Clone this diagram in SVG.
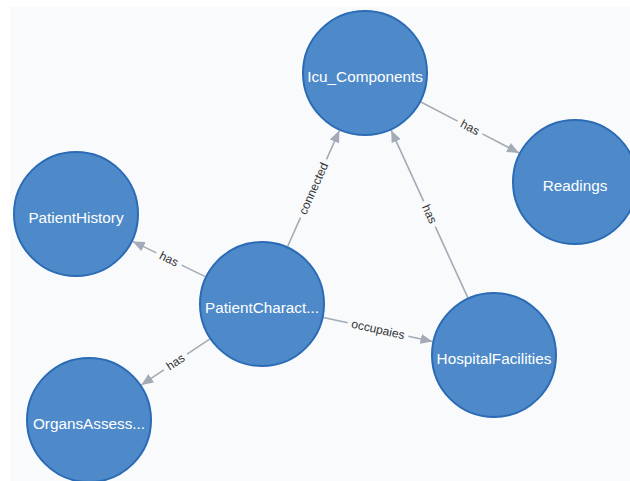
<svg xmlns="http://www.w3.org/2000/svg" width="630" height="481" viewBox="0 0 630 481">
  <defs>
    <marker id="arrow" viewBox="0 0 12 10" refX="12" refY="5" markerWidth="12" markerHeight="10" markerUnits="userSpaceOnUse" orient="auto">
      <path d="M0,0 L12,5 L0,10 z" fill="#a5abb6"/>
    </marker>
    <style>
      .node circle { fill: #4e8ac9; stroke: #2b6bb5; stroke-width: 2; }
      .node text { fill: #ffffff; font-family: "Liberation Sans", Arial, sans-serif; font-size: 15.3px; text-anchor: middle; }
      .edge path { fill: none; stroke: #a5abb6; stroke-width: 1.6; marker-end: url(#arrow); }
      .edge text { fill: #333333; font-family: "Liberation Sans", Arial, sans-serif; font-size: 12px; text-anchor: middle; }
    </style>
  </defs>
  <rect x="0" y="0" width="630" height="481" fill="#ffffff"/>
  <rect x="10" y="7" width="620" height="474" fill="#f8fafc"/>

  <g id="connectors">
    <g class="edge" id="e-connected">
      <path d="M287.6,246.5 L300.5,217.7 M326.5,159.3 L339.4,130.5"/>
      <text transform="translate(313.5,188.5) rotate(-65.97)" y="4">connected</text>
    </g>
    <g class="edge" id="e-icu-readings">
      <path d="M420.9,102 L457.6,121.1 M482.4,133.9 L519.1,153"/>
      <text transform="translate(470,127.5) rotate(27.43)" y="4">has</text>
    </g>
    <g class="edge" id="e-hf-icu">
      <path d="M467.8,297.7 L435.3,226.7 M423.7,201.3 L391.2,130.3"/>
      <text transform="translate(429.5,214) rotate(65.42)" y="4">has</text>
    </g>
    <g class="edge" id="e-pc-ph">
      <path d="M205.3,276.6 L181.6,265.1 M156.4,252.9 L132.7,241.4"/>
      <text transform="translate(169,259) rotate(25.82)" y="4">has</text>
    </g>
    <g class="edge" id="e-pc-oa">
      <path d="M209.7,339.1 L187.1,354.2 M163.9,369.8 L141.3,384.9"/>
      <text transform="translate(175.5,362) rotate(-33.84)" y="4">has</text>
    </g>
    <g class="edge" id="e-pc-hf">
      <path d="M323.5,317.5 L347.7,322.8 M408.3,336.2 L432.5,341.5"/>
      <text transform="translate(378,329.5) rotate(12.4)" y="4">occupaies</text>
    </g>
  </g>

  <g class="node" id="n-icu">
    <circle cx="365" cy="73" r="62"/>
    <text x="365" y="82">Icu_Components</text>
  </g>
  <g class="node" id="n-readings">
    <circle cx="575" cy="182" r="62"/>
    <text x="575" y="191">Readings</text>
  </g>
  <g class="node" id="n-patienthistory">
    <circle cx="76" cy="214" r="62"/>
    <text x="76" y="223">PatientHistory</text>
  </g>
  <g class="node" id="n-patientcharact">
    <circle cx="262" cy="304" r="62"/>
    <text x="262" y="313">PatientCharact...</text>
  </g>
  <g class="node" id="n-hospitalfacilities">
    <circle cx="494" cy="355" r="62"/>
    <text x="494" y="364">HospitalFacilities</text>
  </g>
  <g class="node" id="n-organsassess">
    <circle cx="89" cy="420" r="62"/>
    <text x="89" y="429">OrgansAssess...</text>
  </g>
</svg>
